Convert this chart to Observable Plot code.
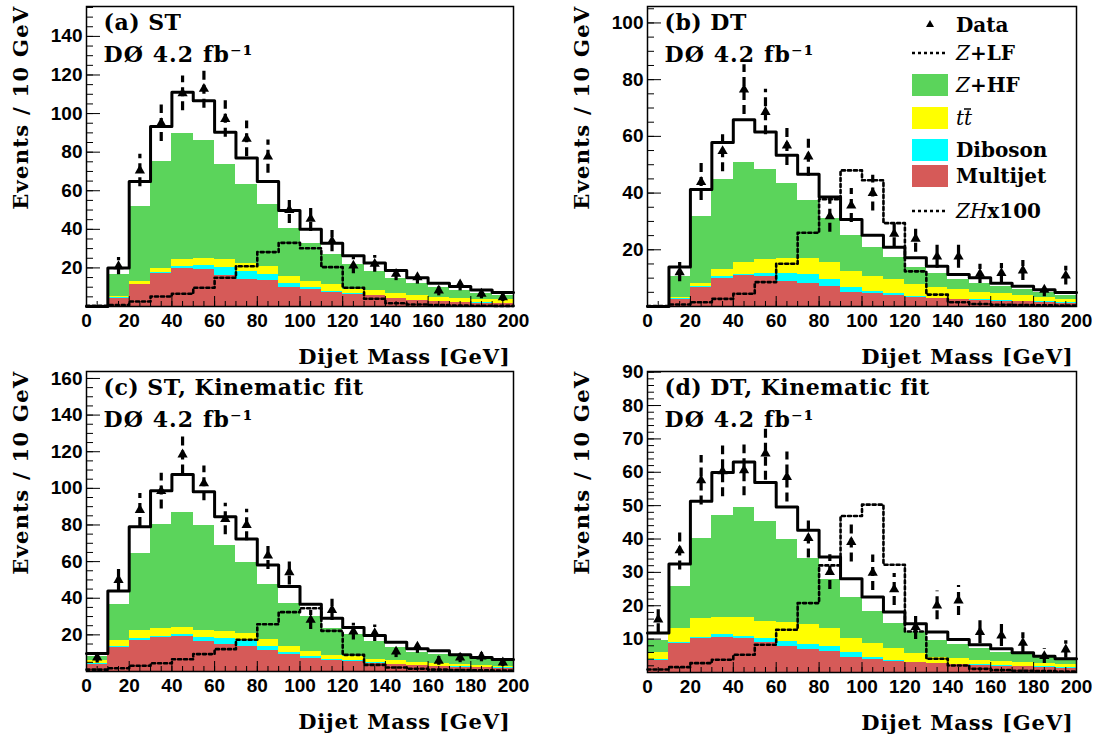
<!DOCTYPE html>
<html><head><meta charset="utf-8">
<script src="https://cdn.jsdelivr.net/npm/d3@7"></script>
<script src="https://cdn.jsdelivr.net/npm/@observablehq/plot@0.6"></script>
<style>
body{margin:0;background:#fff}
#chart{position:relative;width:1099px;height:734px;overflow:hidden;background:#fff}
#chart svg.panel{position:absolute;overflow:visible}
</style></head><body><div id="chart"></div><script>
// ---------- categories / tick labels ----------
const binLow = [0,10,20,30,40,50,60,70,80,90,100,110,120,130,140,150,160,170,180,190];
const xTickLabels = [0,20,40,60,80,100,120,140,160,180,200];
const processNames = ["Multijet","Diboson","tt","Z+HF","Z+LF"];
const processColors = ["#d65a58","#00ffff","#ffff00","#5bd45b","#ffffff"];

// ---------- (a) ST ----------
const stMultijet = [0,4.3,11.2,16.9,19.9,19.3,15.9,13.8,13.5,10,8.6,7.3,6.2,5.5,4,3.1,2.4,2.1,1.7,1.4];
const stDiboson  = [0,0.2,0.4,0.9,1.0,1.9,4.5,4.5,3.1,1.7,1.1,0.6,0.4,0.3,0.2,0.2,0.2,0.2,0.2,0.2];
const stTtbar    = [0,0.5,1.4,1.9,3.3,3.8,3.8,3.8,4.3,4.0,3.4,3.5,2.0,2.5,2.4,2.6,1.9,1.8,1.9,1.9];
const stZhf      = [0,11.4,38.8,55.4,65.3,61,49.4,41.1,31.9,24.9,19.4,15.5,13.2,10,7.7,6.2,5.2,4.2,2.8,2.4];
const stZlf      = [0,3.6,13,18.2,21.5,20.7,16.7,13.8,12,9.1,7.5,5.9,4.5,4.2,4.4,2.8,2.4,2.1,2.0,1.4];
const stZH100    = [0.3,0.7,2.6,5.2,6.6,9.7,14.9,20.9,28.2,33,30.2,20.4,9.7,4,1.7,1,0.7,0.5,0.4,0.3];
const stData     = [null,20.9,70.5,95,110.5,112.8,97.2,86.9,77.7,50,45.4,33.9,21.2,22.1,16.9,15.2,8.3,11.4,6.6,4.8];
const stDataErr  = [null,4.5,8.4,9.5,9,10,9.5,9.3,8.6,7,6.5,5.5,4.2,4.3,3.5,3.6,2.8,3.3,2.6,2.2];

// ---------- (b) DT ----------
const dtMultijet = [0,2.5,6.8,10,10.8,10.5,8.9,8,7.1,5.1,4.5,3.9,3.3,2.7,2.4,2.1,1.9,1.6,1.4,1.2];
const dtDiboson  = [0,0.2,0.4,0.6,0.5,1.3,2.6,3.3,2.3,1.7,0.9,0.6,0.3,0.2,0.2,0.2,0.2,0.2,0.2,0.2];
const dtTtbar    = [0,0.3,0.8,2.3,4.3,4.7,5.3,5.5,6.2,5.6,5.2,4.9,4.2,3.9,3.3,2.8,2.4,2.1,1.7,1.2];
const dtZhf      = [0,7.6,23.8,31.9,35.3,31.9,26.7,20.6,15.3,12.5,10.1,8,6.1,4.7,3.5,3.1,2.6,2.2,1.6,1.4];
const dtZlf      = [0,3.3,9.5,13,15,13.1,9.8,9.2,7.7,5.8,4.4,3.5,3.3,2.7,1.9,1.9,1.1,1.0,1.0,0.9];
const dtZH100    = [0.2,0.7,1.5,2.7,4.5,8.6,15.1,26,37.8,48,44.5,29.4,12.4,4.2,1.5,0.9,0.6,0.5,0.4,0.3];
const dtData     = [null,12.1,43.9,54.8,76.5,68.6,56.8,52.9,31.8,35.6,40,25.6,23.9,17.6,17.6,11.5,11.8,12.7,5.9,10.9];
const dtDataErr  = [null,3.4,6.5,7.3,8.8,8,7.1,7,5.6,6,6.3,4.5,4.8,4.1,4.1,3.4,3.4,3.5,2.5,3.3];

// ---------- (c) ST, Kinematic fit ----------
const stKfMultijet = [4,13.1,17.1,18.5,18.9,16.4,14.9,13.6,11.3,9.1,7.3,5.8,5.5,4.4,3.6,3.1,2.7,2.4,2.2,1.8];
const stKfDiboson  = [0.3,0.4,0.7,0.8,1.1,2.1,2.9,3.5,2.3,1.4,0.9,0.5,0.4,0.3,0.3,0.3,0.2,0.2,0.2,0.2];
const stKfTtbar    = [1.9,3.2,4.4,4.3,4,3.7,4,3.6,3.7,3.1,2.7,2.4,2.3,1.7,1.9,1.5,1.5,1.0,0.9,0.9];
const stKfZhf      = [1.8,19.7,42,56.4,62.7,57.4,47.2,38.8,30.3,23.7,19.1,14.9,11.8,10,7.3,5.6,5.1,4.4,3.6,3.3];
const stKfZlf      = [1.8,7.6,14.8,18.7,20.9,18.6,15.5,12.9,10.6,9.1,6.7,5.5,4,3.2,2.9,1.9,1.8,1.1,0.7,0.3];
const stKfZH100    = [1,1.8,3.1,4.5,6.7,9.5,12.2,17.3,25.8,32.4,34.5,22.2,9.1,3.6,2.2,1.5,1,0.8,0.6,0.5];
const stKfData     = [7.6,50,88.2,98.5,118.5,102.7,83.3,80,63.3,54.2,28.2,33.6,21.8,20.9,10.9,13.6,5.8,7.6,8.2,4.9];
const stKfDataErr  = [3,6.8,9,9.8,10.6,9.5,8.6,8.6,7.6,7,5.3,5.8,4.6,4.5,3.3,3.7,2.4,2.8,2.9,2.2];

// ---------- (d) DT, Kinematic fit ----------
const dtKfMultijet = [3.6,8.6,10.1,10.6,10.1,8.9,7.9,6.9,6.3,4.6,3.9,3.3,2.9,2.6,2.3,2.1,1.9,1.7,1.5,1.3];
const dtKfDiboson  = [0.2,0.4,0.5,0.7,0.6,1.2,1.4,1.4,1.6,1.5,0.7,0.3,0.2,0.2,0.2,0.2,0.2,0.2,0.2,0.2];
const dtKfTtbar    = [2.3,4.1,5.5,5.3,5.9,5.2,5.6,6,5.2,4.2,4,3.5,2.5,1.8,1.8,1.4,1.2,1.0,0.9,0.8];
const dtKfZhf      = [3.4,12.8,24.2,30.5,32.8,30,25,19.8,14.8,12.3,9.7,7.5,6.5,5,4,3.4,2.8,2.4,1.9,1.4];
const dtKfZlf      = [2.3,6.6,11,12.8,13.7,11.6,9.7,8.5,6.7,5.5,4.3,3.5,2.5,2.5,1.6,1.2,1.0,0.6,0.4,0.4];
const dtKfZH100    = [0.9,1.6,2.8,3.8,5.3,8.3,12.8,20.8,32.1,46.9,50.3,32.3,12.3,4.1,2.1,1.1,0.7,0.5,0.4,0.3];
const dtKfData     = [15.9,36.6,57.6,60.3,60.6,65.6,58.6,40.3,30.1,39.1,29.9,24.9,13.6,20.1,21.6,12.1,11.1,8.9,4.9,6.9];
const dtKfDataErr  = [4,5.9,7.4,7.6,7.6,8,7.5,6,5.2,6,5.3,4.8,3.7,4.3,4.5,3.5,3.3,3,2.2,2.6];

// ---------- layout ----------
const panels = [
  {title:"(a) ST", left:0, top:0, width:549, height:367, mL:86, mR:36, mT:6, mB:61, yMax:155.5,
   yLabels:[20,40,60,80,100,120,140], yMinorStep:5,
   comps:[stMultijet,stDiboson,stTtbar,stZhf,stZlf], zh:stZH100, data:stData, err:stDataErr},
  {title:"(b) DT", left:560, top:0, width:539, height:367, mL:87, mR:23, mT:6, mB:61, yMax:105.8,
   yLabels:[20,40,60,80,100], yMinorStep:5,
   comps:[dtMultijet,dtDiboson,dtTtbar,dtZhf,dtZlf], zh:dtZH100, data:dtData, err:dtDataErr},
  {title:"(c) ST, Kinematic fit", left:0, top:365, width:549, height:369, mL:86, mR:36, mT:6, mB:63, yMax:163.8,
   yLabels:[20,40,60,80,100,120,140,160], yMinorStep:5,
   comps:[stKfMultijet,stKfDiboson,stKfTtbar,stKfZhf,stKfZlf], zh:stKfZH100, data:stKfData, err:stKfDataErr},
  {title:"(d) DT, Kinematic fit", left:560, top:365, width:539, height:369, mL:87, mR:23, mT:6, mB:62, yMax:90.2,
   yLabels:[10,20,30,40,50,60,70,80,90], yMinorStep:2,
   comps:[dtKfMultijet,dtKfDiboson,dtKfTtbar,dtKfZhf,dtKfZlf], zh:dtKfZH100, data:dtKfData, err:dtKfDataErr}
];

const serif = "DejaVu Serif";
const xTitle = "Dijet Mass [GeV]";
const yTitle = "Events / 10 GeV";
const lumiText = "DØ 4.2 fb⁻¹";
const chart = document.getElementById("chart");

for (const p of panels) {
  const rows = [];
  p.comps.forEach((arr, k) => arr.forEach((v, i) =>
    rows.push({lo: binLow[i], hi: binLow[i] + 10, v, proc: processNames[k]})));
  const totals = binLow.map((_, i) => d3.sum(p.comps, arr => arr[i]));
  const outline = binLow.map((lo, i) => ({x: lo, y: totals[i]})).concat([{x: 200, y: totals[totals.length - 1]}]);
  const zhLine = binLow.map((lo, i) => ({x: lo, y: p.zh[i]})).concat([{x: 200, y: p.zh[p.zh.length - 1]}]);
  const pts = binLow.map((lo, i) => ({c: lo + 5, n: p.data[i], e: p.err[i]})).filter(d => d.n != null);

  const xMinor = d3.range(0, 201, 5);
  const yMinor = d3.range(0, p.yMax, p.yMinorStep);
  const yMajorTicks = d3.range(0, p.yMax, p.yMinorStep === 2 ? 10 : 20);

  const svg = Plot.plot({
    width: p.width, height: p.height,
    marginLeft: p.mL, marginRight: p.mR, marginTop: p.mT, marginBottom: p.mB,
    x: {domain: [0, 200], axis: null},
    y: {domain: [0, p.yMax], axis: null},
    color: {domain: processNames, range: processColors},
    style: {fontFamily: "Liberation Sans", fontSize: "19px", fontWeight: "bold", overflow: "visible", background: "transparent"},
    marks: [
      Plot.rectY(rows, {x1: "lo", x2: "hi", y: "v", fill: "proc", order: processNames, inset: 0, shapeRendering: "crispEdges"}),
      Plot.line(zhLine, {x: "x", y: "y", curve: "step-after", stroke: "black", strokeWidth: 2.6, strokeDasharray: "3,3"}),
      Plot.line(outline, {x: "x", y: "y", curve: "step-after", stroke: "black", strokeWidth: 3}),
      Plot.ruleX(pts, {x: "c", y1: d => d.n - d.e, y2: d => d.n + d.e, stroke: "black", strokeWidth: 3.2, strokeDasharray: "9,5"}),
      Plot.dot(pts, {x: "c", y: "n", symbol: "triangle", r: 3.8, fill: "black", stroke: "none"}),
      Plot.frame({stroke: "black", strokeWidth: 1.5}),
      Plot.axisX({ticks: xMinor, tickSize: -5, tickFormat: () => "", label: null}),
      Plot.axisX({ticks: xTickLabels, tickSize: -10, tickFormat: () => "", label: null}),
      Plot.axisX({ticks: xTickLabels, tickSize: 0, tickPadding: 7, label: null, fontSize: 19}),
      Plot.axisY({ticks: yMinor, tickSize: -7, tickFormat: () => "", label: null}),
      Plot.axisY({ticks: yMajorTicks, tickSize: -14, tickFormat: () => "", label: null}),
      Plot.axisY({ticks: p.yLabels, tickSize: 0, tickPadding: 4, label: null, fontSize: 19}),
      Plot.text([xTitle], {text: d => d, frameAnchor: "bottom-right", textAnchor: "end", lineAnchor: "middle",
        dx: -3, dy: 51, fontFamily: serif, fontWeight: "bold", fontSize: 21}),
      Plot.text([yTitle], {text: d => d, frameAnchor: "top-left", rotate: -90, textAnchor: "end", lineAnchor: "middle",
        dx: -65, dy: -1, fontFamily: serif, fontWeight: "bold", fontSize: 21}),
      Plot.text([p.title], {text: d => d, frameAnchor: "top-left", textAnchor: "start", lineAnchor: "top",
        dx: 17, dy: 8, fontFamily: serif, fontWeight: "bold", fontSize: 22}),
      Plot.text([lumiText], {text: d => d, frameAnchor: "top-left", textAnchor: "start", lineAnchor: "top",
        dx: 17, dy: 40, fontFamily: serif, fontWeight: "bold", fontSize: 22})
    ]
  });
  svg.querySelectorAll("text").forEach(t => {
    const s = t.textContent;
    if (s === xTitle) t.style.letterSpacing = "0.8px";
    else if (s === yTitle) t.style.letterSpacing = "1.3px";
    else if (s === lumiText) t.style.letterSpacing = "1.1px";
    else if (s === p.title) t.style.letterSpacing = "0.5px";
  });
  svg.classList.add("panel");
  svg.style.left = p.left + "px";
  svg.style.top = p.top + "px";
  chart.appendChild(svg);
}

// ---------- legend (panel b) ----------
const legendItems = [
  {kind: "marker", label: ["Data"]},
  {kind: "dotted", label: [["Z", true], ["+LF", false]]},
  {kind: "box", color: processColors[3], label: [["Z", true], ["+HF", false]]},
  {kind: "box", color: processColors[2], label: "ttbar"},
  {kind: "box", color: processColors[1], label: [["Diboson", false]]},
  {kind: "box", color: processColors[0], label: [["Multijet", false]]},
  {kind: "dotted", label: [["ZH", true], ["x100", false]]}
];
const legendBaselines = [32, 60, 92, 125, 157, 183, 218];
const leg = d3.select(chart).append("svg")
  .attr("width", 199).attr("height", 235)
  .style("position", "absolute").style("left", "900px").style("top", "0px").style("overflow", "visible");
legendItems.forEach((it, i) => {
  const b = legendBaselines[i];
  if (it.kind === "marker") {
    leg.append("path").attr("d", `M30,${b - 12}L34,${b - 5}L26,${b - 5}Z`).attr("fill", "black");
  } else if (it.kind === "dotted") {
    leg.append("line").attr("x1", 12).attr("x2", 48).attr("y1", b - 7).attr("y2", b - 7)
      .attr("stroke", "black").attr("stroke-width", 2.6).attr("stroke-dasharray", "3,3");
  } else {
    leg.append("rect").attr("x", 12).attr("y", b - 18).attr("width", 36).attr("height", 22).attr("fill", it.color);
  }
  const t = leg.append("text").attr("x", 56).attr("y", b)
    .attr("font-family", serif).attr("font-weight", "bold").attr("font-size", 20);
  if (it.label === "ttbar") {
    t.append("tspan").attr("font-style", "italic").attr("font-weight", "normal").text("t");
    t.append("tspan").attr("font-style", "italic").attr("font-weight", "normal").text("t");
    leg.append("line").attr("x1", 64).attr("x2", 71).attr("y1", b - 16).attr("y2", b - 16).attr("stroke", "black").attr("stroke-width", 1.5);
  } else if (typeof it.label[0] === "string") {
    t.text(it.label[0]);
  } else {
    for (const [s, ital] of it.label) {
      const ts = t.append("tspan").text(s);
      if (ital) ts.attr("font-style", "italic").attr("font-weight", "normal");
    }
  }
});
</script></body></html>
